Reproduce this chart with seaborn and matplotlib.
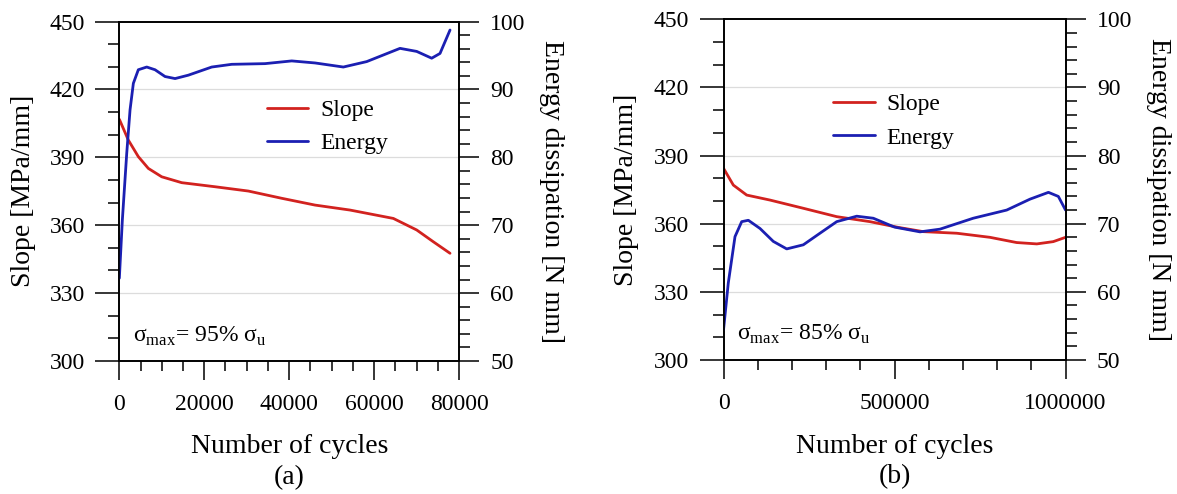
import numpy as np
import pandas as pd
import matplotlib
matplotlib.use("Agg")
import matplotlib.pyplot as plt
from matplotlib.ticker import MultipleLocator, FormatStrFormatter
import seaborn as sns

# ==========================================
# Data
# ==========================================
# (a) sigma_max = 95% sigma_u
cyc_a_slope = [0, 2120, 4470, 6830, 9980, 14690, 22540, 30380, 38240, 46090, 54330, 64530, 70030, 73940, 77880]
slope_a = [406.8, 397.6, 390.3, 385.1, 381.4, 378.8, 377.0, 375.1, 371.9, 368.9, 366.7, 363.0, 357.9, 352.7, 347.6]
cyc_a_energy = [0, 710, 1740, 2520, 3300, 4470, 6450, 8400, 10760, 13120, 16250, 21760, 26470, 34310, 40600,
                46090, 52750, 58260, 66100, 70030, 73560, 75520, 77880]
energy_a = [62.2, 70.8, 80.6, 87.0, 90.9, 92.9, 93.3, 92.9, 91.9, 91.6, 92.1, 93.3, 93.7, 93.8, 94.2,
            93.9, 93.3, 94.1, 96.05, 95.6, 94.6, 95.3, 98.75]

# (b) sigma_max = 85% sigma_u
cyc_b_slope = [0, 28700, 67800, 136000, 233000, 331000, 428000, 510000, 584000, 682000, 779000, 857000,
               916000, 964000, 1000000]
slope_b = [384.4, 377.0, 372.6, 370.4, 366.8, 363.1, 360.9, 358.4, 356.5, 355.8, 354.0, 351.7,
           351.1, 352.1, 354.0]
cyc_b_energy = [0, 14000, 33600, 53200, 72600, 106700, 145600, 184800, 233300, 282000, 331000, 389500,
                438000, 500000, 574600, 633000, 730000, 828000, 896000, 950000, 979000, 1000000]
energy_b = [54.4, 61.3, 68.1, 70.3, 70.5, 69.3, 67.4, 66.3, 66.9, 68.6, 70.3, 71.1,
            70.8, 69.5, 68.8, 69.2, 70.8, 72.0, 73.6, 74.6, 74.0, 72.0]

panels = [
    dict(cs=cyc_a_slope, s=slope_a, ce=cyc_a_energy, e=energy_a, xmax=80000, xmajor=20000, xminor=5000,
         note="95%", tag="(a)", rect=[0.1014, 0.2692, 0.2886, 0.6872], leg=(0.434, 0.690)),
    dict(cs=cyc_b_slope, s=slope_b, ce=cyc_b_energy, e=energy_b, xmax=1000000, xmajor=500000, xminor=100000,
         note="85%", tag="(b)", rect=[0.6147, 0.2713, 0.2906, 0.6897], leg=(0.321, 0.701)),
]

RED = '#d2221f'
BLUE = '#1b1fb2'

sns.set_theme(style='ticks')
plt.rcParams['font.family'] = ['Liberation Serif', 'DejaVu Serif']
plt.rcParams['mathtext.fontset'] = 'custom'
plt.rcParams['mathtext.rm'] = 'Liberation Serif'
plt.rcParams['axes.edgecolor'] = 'black'
plt.rcParams['axes.linewidth'] = 1.2
# seaborn greys the text, the original is plain black
for key in ['text.color', 'axes.labelcolor', 'xtick.color', 'ytick.color']:
    plt.rcParams[key] = 'black'

fig = plt.figure(figsize=(11.77, 4.94), dpi=100)

for p in panels:
    ax = fig.add_axes(p['rect'])
    ax2 = ax.twinx()

    # light horizontal grid at the major slope ticks
    for yv in [330, 360, 390, 420]:
        ax.axhline(yv, color='#dcdcdc', lw=0.9, zorder=0)

    df_s = pd.DataFrame({'cycles': p['cs'], 'slope': p['s']})
    df_e = pd.DataFrame({'cycles': p['ce'], 'energy': p['e']})
    sns.lineplot(data=df_s, x='cycles', y='slope', ax=ax, color=RED, lw=2.0, estimator=None, legend=False)
    sns.lineplot(data=df_e, x='cycles', y='energy', ax=ax2, color=BLUE, lw=2.0, estimator=None, legend=False)
    h_s = ax.lines[-1]
    h_e = ax2.lines[-1]
    for ln in (h_s, h_e):
        ln.set_solid_joinstyle('round')

    ax.set_xlim(0, p['xmax'])
    ax.set_ylim(300, 450)
    ax2.set_ylim(50, 100)

    ax.xaxis.set_major_locator(MultipleLocator(p['xmajor']))
    ax.xaxis.set_minor_locator(MultipleLocator(p['xminor']))
    ax.xaxis.set_major_formatter(FormatStrFormatter('%d'))
    ax.yaxis.set_major_locator(MultipleLocator(30))
    ax.yaxis.set_minor_locator(MultipleLocator(10))
    ax2.yaxis.set_major_locator(MultipleLocator(10))
    ax2.yaxis.set_minor_locator(MultipleLocator(2))

    ax.tick_params(axis='x', which='major', direction='out', length=13.5, width=1.1, pad=10, labelsize=17, colors='black')
    ax.tick_params(axis='x', which='minor', direction='out', length=7.5, width=1.1, colors='black')
    ax.tick_params(axis='y', which='major', direction='out', length=17, width=1.1, pad=8, labelsize=17, colors='black')
    ax.tick_params(axis='y', which='minor', direction='out', length=8, width=1.1, colors='black')
    ax2.tick_params(axis='y', which='major', direction='out', length=14.5, width=1.1, pad=8, labelsize=17, colors='black')
    ax2.tick_params(axis='y', which='minor', direction='out', length=8, width=1.1, colors='black')

    for a in (ax, ax2):
        for sp in a.spines.values():
            sp.set_visible(True)
            sp.set_color('black')
            sp.set_linewidth(1.2)

    ax.set_xlabel('Number of cycles', fontsize=20, va='center', color='black')
    ax.xaxis.set_label_coords(0.5, -0.253)
    ax.set_ylabel('Slope [MPa/mm]', fontsize=20, va='center', color='black')
    ax.yaxis.set_label_coords(-0.283, 0.5)
    ax2.set_ylabel('Energy dissipation [N mm]', fontsize=20, rotation=270, va='center', color='black')
    ax2.yaxis.set_label_coords(1.272, 0.5)

    ax.text(0.5, -0.342, p['tag'], transform=ax.transAxes, fontsize=20, ha='center', va='center', color='black')
    ax.text(0.04, 0.058, 'σ$_{\\mathrm{max}}$= ' + p['note'] + ' σ$_{\\mathrm{u}}$',
            transform=ax.transAxes, fontsize=17, ha='left', va='baseline', color='black')

    leg = ax.legend([h_s, h_e], ['Slope', 'Energy'], loc='center left', bbox_to_anchor=p['leg'],
                    frameon=False, fontsize=17, handlelength=1.75, handletextpad=0.5, labelspacing=0.5,
                    borderpad=0, borderaxespad=0)
    for t in leg.get_texts():
        t.set_color('black')

fig.savefig('out.png', dpi=100)
